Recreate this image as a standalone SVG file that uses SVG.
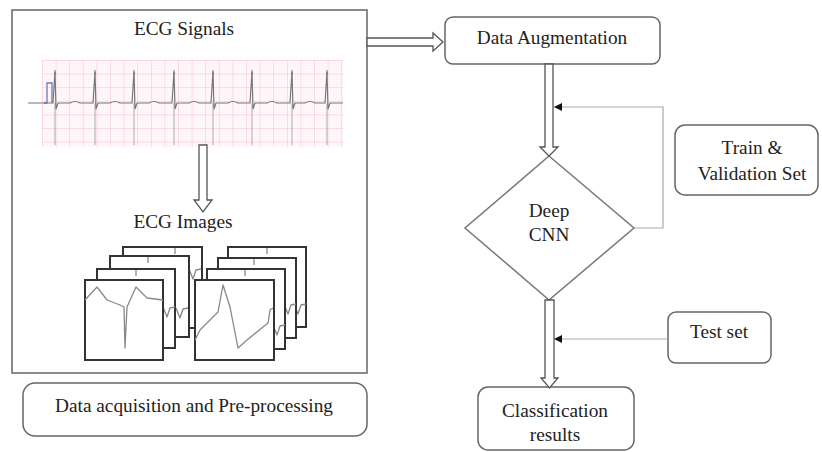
<svg xmlns="http://www.w3.org/2000/svg" width="822" height="452" viewBox="0 0 822 452">
<defs>
<style>
.t{font-size:19.3px;fill:#222;text-anchor:middle}
.box{fill:#fff;stroke:#666;stroke-width:1.5}
.hol{fill:#fff;stroke:#555;stroke-width:1.3;stroke-linejoin:miter}
.thin{fill:none;stroke:#aaa;stroke-width:1.2}
.frm{fill:#fff;stroke:#333;stroke-width:2}
.wv{fill:none;stroke:#888;stroke-width:1.3;stroke-linejoin:round}
.tk{stroke:#666;stroke-width:1}
</style>
<pattern id="minor" width="2.72" height="2.72" patternUnits="userSpaceOnUse" x="42" y="60">
<path d="M0,0H2.72M0,0V2.72" stroke="#fbe6ec" stroke-width="0.6" fill="none"/>
</pattern>
<pattern id="major" width="13.6" height="13.6" patternUnits="userSpaceOnUse" x="42" y="60">
<path d="M0,0H13.6M0,0V13.6" stroke="#f3bfcd" stroke-width="1" fill="none"/>
</pattern>
<marker id="ah" viewBox="0 0 10 10" refX="10" refY="5" markerWidth="8" markerHeight="8" markerUnits="userSpaceOnUse" orient="auto">
<path d="M0,0L10,5L0,10z" fill="#111"/>
</marker>
<path id="w1" d="M0,20 L12,7 L22,20 L35,25 L39,27 L40,68 L42,27 L51,7 L62,18 L78,20"/>
<path id="w2" d="M0,60 L5,50 L18,37 L23,32 L28,5 L35,27 L43,68 L52,60 L68,47 L73,43 L75,30 L78,28"/>
<path id="wb" d="M0,0 H62 L66,2 L70,12 L73,3 L78,2"/>
</defs>
<g font-family="Liberation Serif, serif">
<g id="acquisition">
<rect class="box" x="12" y="10" width="355" height="363" stroke="#777"/>
<text class="t" x="184" y="35">ECG Signals</text>
<g id="ecg-strip">
<rect x="42" y="60" width="301" height="87" fill="#fffafb"/>
<rect x="42" y="60" width="301" height="87" fill="url(#minor)"/>
<rect x="42" y="60" width="301" height="87" fill="url(#major)"/>
<g stroke="#aaa" stroke-width="1">
<path d="M55,103V145M95,103V145M134,103V145M174,103V145M213,103V145M252,103V145M292,103V145M327,103V145"/>
</g>
<path fill="none" stroke="#6b7fb8" stroke-width="1.3" d="M44,103H47V83H52V103"/>
<path fill="none" stroke="#777" stroke-width="1.2" d="M28,103H53L55,72L56,109L58,103H70Q75,100 80,103H93L95,72L96,109L98,103H110Q115,100 120,103H132L134,72L135,109L137,103H149Q154,100 159,103H172L174,72L175,109L177,103H189Q194,100 199,103H211L213,72L214,109L216,103H228Q233,100 238,103H250L252,72L253,109L255,103H267Q272,100 277,103H290L292,72L293,109L295,103H305Q310,100 315,103H325L327,72L328,109L330,103H343"/>
<g class="tk"><path d="M55,70V75M95,70V75M134,70V75M174,70V75M213,70V75M252,70V75M292,70V75M327,70V75"/></g>
</g>
<polygon class="hol" points="199,145 207,145 207,200 212,200 203,212 194,200 199,200"/>
<text class="t" x="183" y="228">ECG Images</text>
<g id="images-left">
<g transform="translate(123,247)"><rect class="frm" width="79" height="81"/><use href="#wb" class="wv" transform="translate(0,20)"/><path class="tk" d="M52,1V7"/></g>
<g transform="translate(110,256)"><rect class="frm" width="79" height="81"/><use href="#wb" class="wv" transform="translate(0,50)"/><path class="tk" d="M38,1V7"/></g>
<g transform="translate(97,269)"><rect class="frm" width="78" height="79"/><use href="#wb" class="wv" transform="translate(0,36)"/><path class="tk" d="M39,1V7"/></g>
<g transform="translate(85,280)"><rect class="frm" width="78" height="80"/><use href="#w1" class="wv"/></g>
</g>
<g id="images-right">
<g transform="translate(228,247)"><rect class="frm" width="78" height="80"/><use href="#wb" class="wv" transform="translate(0,55)"/><path class="tk" d="M39,1V7"/></g>
<g transform="translate(218,258)"><rect class="frm" width="78" height="80"/><use href="#wb" class="wv" transform="translate(0,44)"/><path class="tk" d="M36,1V7"/></g>
<g transform="translate(207,269)"><rect class="frm" width="78" height="80"/><use href="#wb" class="wv" transform="translate(0,54)"/><path class="tk" d="M38,1V7"/></g>
<g transform="translate(195,280)"><rect class="frm" width="79" height="80"/><use href="#w2" class="wv"/></g>
</g>
</g>

<g id="preprocessing">
<rect class="box" x="23" y="383" width="344" height="53" rx="12"/>
<text class="t" x="194" y="412">Data acquisition and Pre-processing</text>
</g>

<g id="augmentation">
<rect class="box" x="445" y="17" width="215" height="47" rx="8"/>
<text class="t" x="552" y="44">Data Augmentation</text>
</g>

<g id="cnn">
<polygon points="549,156 634,228 549,300 465,228" fill="#fff" stroke="#777" stroke-width="1.5"/>
<text class="t" x="549" y="217">Deep</text>
<text class="t" x="549" y="241">CNN</text>
</g>

<g id="trainval">
<rect class="box" x="675" y="125" width="143" height="70" rx="10"/>
<text class="t" x="752" y="154">Train &amp;</text>
<text class="t" x="752" y="180">Validation Set</text>
</g>

<g id="testset">
<rect class="box" x="668" y="312" width="103" height="51" rx="8"/>
<text class="t" x="719" y="338">Test set</text>
</g>

<g id="results">
<rect class="box" x="478" y="387" width="156" height="63" rx="10"/>
<text class="t" x="555" y="417">Classification</text>
<text class="t" x="555" y="441">results</text>
</g>
</g>
<g id="connectors">
<polygon class="hol" points="367,38 433,38 433,33 443,42 433,51 433,46 367,46"/>
<polygon class="hol" points="545,64 553,64 553,147 558,147 549,156 540,147 545,147"/>
<polygon class="hol" points="545,300 554,300 554,378 558,378 549.5,388 541,378 545,378"/>
<path class="thin" d="M634,228H663V107H554" marker-end="url(#ah)"/>
<path class="thin" d="M668,339H554" marker-end="url(#ah)"/>
</g>
</svg>
